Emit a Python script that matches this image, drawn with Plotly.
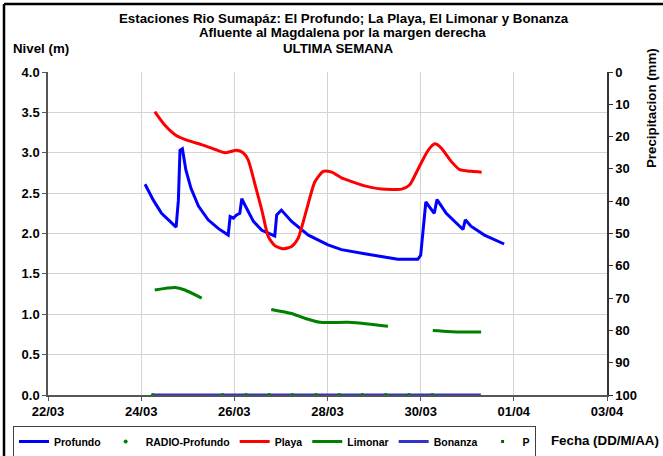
"""Niveles Rio Sumapaz - ultima semana."""
import plotly.graph_objects as go

FONT = "Liberation Sans"

# Profundo (m)
profundo_t = [
    "2021-03-24 02:00", "2021-03-24 05:30", "2021-03-24 06:20", "2021-03-24 10:30",
    "2021-03-24 16:00", "2021-03-24 18:00", "2021-03-24 19:10", "2021-03-24 20:00",
    "2021-03-24 21:15", "2021-03-24 23:00", "2021-03-25 01:40", "2021-03-25 05:30",
    "2021-03-25 10:30", "2021-03-25 15:50", "2021-03-25 20:50", "2021-03-25 21:50",
    "2021-03-25 23:30", "2021-03-26 01:10", "2021-03-26 02:50", "2021-03-26 03:50",
    "2021-03-26 05:30", "2021-03-26 09:50", "2021-03-26 14:10", "2021-03-26 19:10",
    "2021-03-26 20:50", "2021-03-26 21:50", "2021-03-27 00:15", "2021-03-27 05:30",
    "2021-03-27 14:10", "2021-03-28 00:15", "2021-03-28 07:10", "2021-03-28 19:10",
    "2021-03-29 12:15", "2021-03-29 22:30", "2021-03-30 00:00", "2021-03-30 02:40",
    "2021-03-30 07:00", "2021-03-30 08:25", "2021-03-30 13:10", "2021-03-30 21:50",
    "2021-03-30 23:00", "2021-03-31 01:55", "2021-03-31 08:50", "2021-03-31 19:00",
]
profundo_v = [
    2.61, 2.44, 2.41, 2.25, 2.125, 2.08, 2.41, 3.03, 3.05, 2.79, 2.56, 2.34,
    2.17, 2.06, 1.98, 2.21, 2.19, 2.23, 2.25, 2.43, 2.35, 2.15, 2.04, 1.98,
    1.97, 2.23, 2.29, 2.15, 1.98, 1.86, 1.80, 1.75, 1.68, 1.68, 1.73, 2.39,
    2.25, 2.42, 2.25, 2.05, 2.17, 2.09, 1.98, 1.87,
]

# Playa (m)
playa_t = [
    "2021-03-24 07:00", "2021-03-24 12:15", "2021-03-24 18:15", "2021-03-25 00:15",
    "2021-03-25 07:10", "2021-03-25 14:10", "2021-03-25 19:10", "2021-03-26 01:10",
    "2021-03-26 04:30", "2021-03-26 07:10", "2021-03-26 10:30", "2021-03-26 14:10",
    "2021-03-26 17:30", "2021-03-26 20:50", "2021-03-27 01:10", "2021-03-27 05:30",
    "2021-03-27 08:50", "2021-03-27 13:10", "2021-03-27 17:30", "2021-03-27 21:50",
    "2021-03-28 02:10", "2021-03-28 07:10", "2021-03-28 10:30", "2021-03-28 19:10",
    "2021-03-29 03:50", "2021-03-29 14:10", "2021-03-29 18:15", "2021-03-29 22:30",
    "2021-03-30 03:50", "2021-03-30 07:25", "2021-03-30 10:30", "2021-03-30 15:50",
    "2021-03-30 20:10", "2021-03-31 02:10", "2021-03-31 07:25",
]
playa_v = [
    3.51, 3.34, 3.21, 3.15, 3.10, 3.04, 3.00, 3.03, 3.00, 2.91, 2.62, 2.29,
    1.96, 1.85, 1.81, 1.84, 1.94, 2.29, 2.64, 2.77, 2.76, 2.69, 2.66, 2.59,
    2.55, 2.55, 2.60, 2.79, 3.03, 3.11, 3.06, 2.89, 2.79, 2.77, 2.76,
]

# Limonar (m), huecos sin dato
limonar_t = [
    "2021-03-24 07:00", "2021-03-24 17:30", "2021-03-24 22:30", "2021-03-25 07:10",
    "2021-03-26 00:00",
    "2021-03-26 19:00", "2021-03-27 05:30", "2021-03-27 12:15", "2021-03-27 20:10",
    "2021-03-28 10:30", "2021-03-28 20:50", "2021-03-29 07:10",
    "2021-03-29 18:00",
    "2021-03-30 06:15", "2021-03-30 20:50", "2021-03-31 07:10",
]
limonar_v = [
    1.30, 1.33, 1.30, 1.20,
    None,
    1.06, 1.01, 0.95, 0.90, 0.90, 0.88, 0.85,
    None,
    0.80, 0.78, 0.78,
]

# Bonanza (m)
bonanza_t = ["2021-03-24 06:00", "2021-03-31 07:00"]
bonanza_v = [0.0, 0.0]

# RADIO-Profundo (m)
radio_t = [
    "2021-03-24 06:00", "2021-03-25 18:00", "2021-03-26 06:00", "2021-03-26 18:00",
    "2021-03-27 06:00", "2021-03-27 18:00", "2021-03-28 06:00", "2021-03-28 18:00",
    "2021-03-29 06:00", "2021-03-29 18:00", "2021-03-30 06:00",
]
radio_v = [0.0] * len(radio_t)

# Precipitacion (mm) - sin registros en la semana
p_t = ["2021-03-24 06:00"]
p_v = [None]

fig = go.Figure()

fig.add_trace(go.Scatter(
    x=profundo_t, y=profundo_v, name="Profundo", mode="lines",
    line=dict(color="#0000FF", width=3), legendrank=1,
))
fig.add_trace(go.Scatter(
    x=playa_t, y=playa_v, name="Playa", mode="lines",
    line=dict(color="#FF0000", width=3, shape="spline", smoothing=0.6), legendrank=3,
))
fig.add_trace(go.Scatter(
    x=limonar_t, y=limonar_v, name="Limonar", mode="lines",
    line=dict(color="#008000", width=3, shape="spline", smoothing=0.6), legendrank=4,
))
fig.add_trace(go.Scatter(
    x=bonanza_t, y=bonanza_v, name="Bonanza", mode="lines",
    line=dict(color="#3333CC", width=3), legendrank=5, cliponaxis=False,
))
fig.add_trace(go.Scatter(
    x=radio_t, y=radio_v, name="RADIO-Profundo", mode="markers",
    marker=dict(color="#008000", size=4), legendrank=2, cliponaxis=False,
))
fig.add_trace(go.Scatter(
    x=p_t, y=p_v, name="P", mode="markers", yaxis="y2",
    marker=dict(color="#006400", size=3, symbol="square"), legendrank=6,
))


# coordenadas de papel para textos fuera del area de graficado
def px_x(p):
    return (p - 48) / 559


def px_y(p):
    return (395 - p) / 323


bold = dict(family=FONT, size=13.3, color="black", weight="bold")
annotations = [
    dict(text="Estaciones Rio Sumapáz: El Profundo; La Playa, El Limonar y Bonanza",
         x=px_x(344), y=px_y(18)),
    dict(text="Afluente al Magdalena por la margen derecha", x=px_x(342), y=px_y(33)),
    dict(text="ULTIMA SEMANA", x=px_x(338), y=px_y(48)),
    dict(text="Nivel (m)", x=px_x(11), y=px_y(48), xanchor="left"),
    dict(text="Fecha (DD/M/AA)", x=px_x(661), y=px_y(440), xanchor="right"),
    dict(text="Precipitacion (mm)", x=px_x(652), y=px_y(108), textangle=-90),
]
for a in annotations:
    a.setdefault("xanchor", "center")
    fig.add_annotation(xref="paper", yref="paper", yanchor="middle",
                       showarrow=False, font=bold, **a)

# marco negro de la imagen
fig.add_shape(type="line", xref="paper", yref="paper", x0=px_x(4), x1=px_x(700),
              y0=px_y(4), y1=px_y(4), line=dict(color="black", width=2.5))
fig.add_shape(type="line", xref="paper", yref="paper", x0=px_x(4), x1=px_x(4),
              y0=px_y(4), y1=px_y(470), line=dict(color="black", width=2.5))

fig.update_layout(
    width=663, height=456,
    margin=dict(l=48, r=56, t=72, b=61),
    paper_bgcolor="white", plot_bgcolor="white",
    font=dict(family=FONT, size=13, color="black", weight="bold"),
    showlegend=True,
    legend=dict(
        orientation="h", xref="container", yref="container",
        x=13 / 663, y=1 - 426 / 456, xanchor="left", yanchor="top",
        bordercolor="#404040", borderwidth=1, bgcolor="white",
        font=dict(family=FONT, size=10.5, color="black", weight="bold"),
        itemwidth=30, tracegroupgap=0,
    ),
    xaxis=dict(
        type="date", range=["2021-03-22", "2021-04-03"],
        tick0="2021-03-22", dtick=2 * 86400000, tickformat="%d/%m",
        showgrid=True, gridcolor="#d4d4d4", gridwidth=1,
        showline=True, linecolor="#555555", linewidth=1.5,
        ticks="outside", ticklen=4, tickcolor="#555555",
        zeroline=False, automargin=False,
    ),
    yaxis=dict(
        range=[0, 4], dtick=0.5, tickformat=".1f",
        showgrid=True, gridcolor="#d4d4d4", gridwidth=1,
        showline=True, linecolor="#555555", linewidth=1.5,
        ticks="outside", ticklen=4, tickcolor="#555555",
        zeroline=False, automargin=False,
    ),
    yaxis2=dict(
        overlaying="y", side="right", range=[100, 0], dtick=10,
        showgrid=False, zeroline=False,
        showline=True, linecolor="#333333", linewidth=1.5,
        ticks="outside", ticklen=4, tickcolor="#333333", automargin=False,
    ),
)

fig.write_html("out.html", config={"displayModeBar": False},
               post_script="document.body.style.margin = '0';")
